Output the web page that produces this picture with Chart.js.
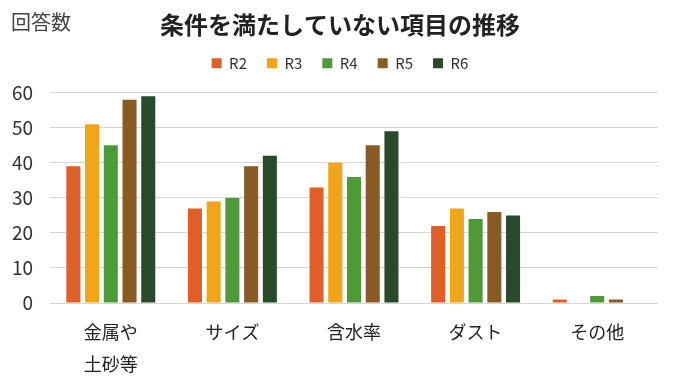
<!DOCTYPE html>
<html>
<head>
<meta charset="utf-8">
<script src="https://cdn.jsdelivr.net/npm/chart.js"></script>
<style>
  html, body { margin: 0; padding: 0; background: #fff; }
  #wrap { width: 673px; height: 383px; position: relative; }
</style>
</head>
<body>
<div id="wrap"><canvas id="chart"></canvas></div>
<script>
const categories = [["金属や", "土砂等"], "サイズ", "含水率", "ダスト", "その他"];
const r2 = [39, 27, 33, 22, 1];
const r3 = [51, 29, 40, 27, 0];
const r4 = [45, 30, 36, 24, 2];
const r5 = [58, 39, 45, 26, 1];
const r6 = [59, 42, 49, 25, 0];
const seriesNames = ["R2", "R3", "R4", "R5", "R6"];
const seriesColors = ["#e0602a", "#f2a41a", "#4e9a38", "#8a5a24", "#2a4a2c"];

const FONT = "'Noto Sans CJK JP', 'Noto Sans', sans-serif";

// unit caption in the top-left corner
const unitLabel = {
    id: "unitLabel",
    afterDraw(chart) {
        const ctx = chart.ctx;
        ctx.save();
        ctx.font = "20px " + FONT;
        ctx.fillStyle = "#444";
        ctx.textBaseline = "middle";
        ctx.fillText("回答数", 11, 22);
        ctx.restore();
    }
};

// extra room under the legend, and title + legend centred over the plot area
const headerLayout = {
    id: "headerLayout",
    beforeInit(chart) {
        const fit = chart.legend.fit;
        chart.legend.fit = function () {
            fit.call(this);
            this.height += 12;
        };
    },
    afterLayout(chart) {
        const shift = 11;
        [chart.titleBlock, chart.legend].forEach(box => {
            if (!box) return;
            box.left += shift;
            box.right += shift;
        });
    }
};

const datasets = [r2, r3, r4, r5, r6].map((values, i) => ({
    label: seriesNames[i],
    data: values,
    backgroundColor: seriesColors[i],
    borderWidth: 0,
    categoryPercentage: 0.77,
    barPercentage: 0.75
}));

new Chart(document.getElementById("chart"), {
    type: "bar",
    data: { labels: categories, datasets },
    plugins: [unitLabel, headerLayout],
    options: {
        responsive: true,
        maintainAspectRatio: false,
        animation: false,
        layout: { padding: { left: 0, right: 15, top: 8, bottom: 2 } },
        plugins: {
            title: {
                display: true,
                text: "条件を満たしていない項目の推移",
                color: "#222",
                font: { family: FONT, size: 24, weight: "bold" },
                padding: { top: 2, bottom: -3 }
            },
            legend: {
                position: "top",
                labels: {
                    boxWidth: 10,
                    boxHeight: 10,
                    padding: 20,
                    color: "#333",
                    font: { family: FONT, size: 15 }
                }
            },
            tooltip: { enabled: false }
        },
        scales: {
            x: {
                afterFit(scale) { scale.height = 78; },
                grid: { display: false },
                border: { display: false },
                ticks: {
                    color: "#222",
                    font: { family: FONT, size: 18, lineHeight: 1.78 },
                    padding: 5
                }
            },
            y: {
                min: 0,
                max: 60,
                afterFit(scale) { scale.width = 50; },
                ticks: {
                    stepSize: 10,
                    color: "#333",
                    font: { family: FONT, size: 19 },
                    padding: 17
                },
                grid: { color: "#d6d6d6", drawTicks: false },
                border: { display: false }
            }
        }
    }
});
</script>
</body>
</html>
